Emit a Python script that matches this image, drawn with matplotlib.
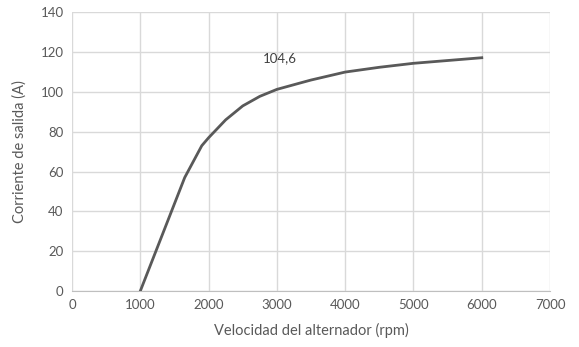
import matplotlib.pyplot as plt

# alternator speed (rpm) vs output current (A)
rpm = [1000, 1650, 1900, 2000, 2250, 2500, 2750, 3000, 3350, 3500, 4000, 4500, 5000, 6000]
corriente = [0, 57, 73, 77, 86, 93, 97.8, 101.3, 104.6, 106, 110, 112.4, 114.4, 117.2]
x_ticks = [0, 1000, 2000, 3000, 4000, 5000, 6000, 7000]
y_ticks = [0, 20, 40, 60, 80, 100, 120, 140]
etiqueta = "104,6"

txt = "#595959"
plt.rcParams['font.family'] = ['Lato', 'DejaVu Sans']

fig = plt.figure(figsize=(5.79, 3.47), dpi=100)
ax = fig.add_axes([0.1244, 0.1614, 0.8256, 0.803])

ax.plot(rpm, corriente, color="#595959", lw=2.0, solid_joinstyle="round", zorder=3)
ax.text(2800, 117, etiqueta, fontsize=9.5, color="#404040", ha="left", va="center")

ax.set_xlim(0, 7000)
ax.set_ylim(0, 140)
ax.set_xticks(x_ticks)
ax.set_yticks(y_ticks)
ax.grid(True, color="#d9d9d9", lw=1.0)
ax.set_axisbelow(True)
for s in ["top", "right", "left"]:
    ax.spines[s].set_visible(False)
ax.spines["bottom"].set_color("#bfbfbf")
ax.tick_params(length=0, labelsize=9.5, colors=txt, pad=6)

ax.set_xlabel("Velocidad del alternador (rpm)", fontsize=10.5, color=txt, labelpad=8)
ax.set_ylabel("Corriente de salida (A)", fontsize=10.5, color=txt, labelpad=10)

fig.savefig("out.png", dpi=100)
